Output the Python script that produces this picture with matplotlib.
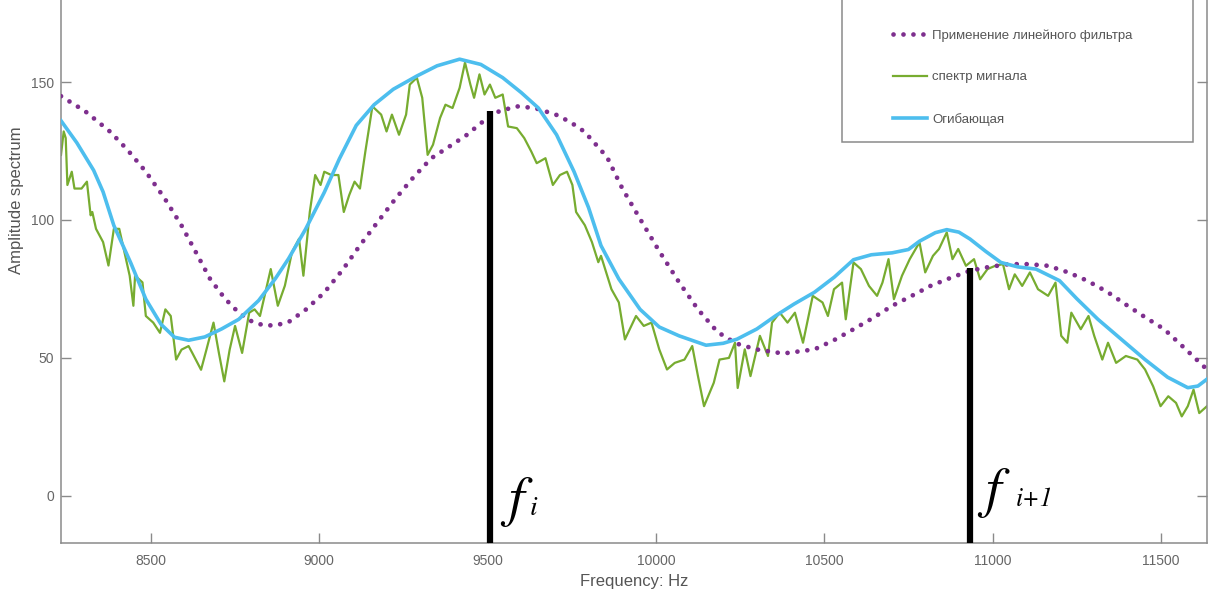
import matplotlib.pyplot as plt
from matplotlib.patches import Rectangle

plt.rcParams["font.family"] = ["Liberation Sans", "DejaVu Sans"]

# spectrum of the signal
freq_signal = [8233, 8241, 8247, 8252, 8265, 8273, 8294, 8310, 8321, 8326, 8337, 8358, 8374, 8390,
               8406, 8417, 8437, 8448, 8453, 8475, 8485, 8507, 8527, 8543, 8559, 8575, 8591, 8612,
               8623, 8649, 8665, 8686, 8702, 8718, 8734, 8750, 8771, 8792, 8808, 8824, 8840, 8856,
               8877, 8898, 8919, 8940, 8953, 8972, 8988, 9004, 9015, 9036, 9057, 9073, 9089, 9105,
               9121, 9137, 9158, 9184, 9200, 9216, 9237, 9258, 9269, 9290, 9306, 9322, 9338, 9359,
               9375, 9396, 9417, 9433, 9449, 9460, 9476, 9491, 9507, 9523, 9545, 9561, 9587, 9609,
               9630, 9646, 9672, 9694, 9715, 9736, 9752, 9763, 9789, 9810, 9829, 9837, 9868, 9890,
               9908, 9941, 9964, 9987, 10010, 10033, 10056, 10085, 10108, 10125, 10143, 10172,
               10189, 10217, 10235, 10243, 10264, 10281, 10309, 10333, 10345, 10368, 10391, 10413,
               10437, 10466, 10495, 10511, 10529, 10553, 10564, 10587, 10609, 10633, 10657, 10673,
               10691, 10707, 10731, 10754, 10783, 10800, 10823, 10841, 10864, 10881, 10898, 10921,
               10945, 10963, 10985, 11008, 11031, 11049, 11066, 11088, 11111, 11135, 11165, 11187,
               11204, 11222, 11234, 11262, 11285, 11302, 11326, 11343, 11367, 11396, 11430, 11453,
               11477, 11499, 11522, 11545, 11562, 11580, 11597, 11614, 11637]
amp_signal = [123.6, 132.1, 129.7, 112.7, 117.5, 111.4, 111.4, 113.9, 101.7, 102.9, 96.8, 92.0, 83.5,
              96.8, 96.8, 90.8, 79.8, 68.9, 79.8, 77.4, 65.2, 62.8, 59.1, 67.6, 65.2, 49.4, 53.0,
              54.3, 51.8, 45.7, 53.0, 62.8, 51.8, 41.5, 53.0, 61.6, 51.8, 66.4, 67.6, 65.2, 73.7,
              82.2, 68.9, 76.2, 88.3, 93.2, 79.8, 102.9, 116.3, 112.7, 117.5, 116.3, 116.3, 102.9,
              109.0, 113.9, 111.4, 124.8, 141.2, 138.2, 132.1, 138.2, 130.9, 138.2, 149.1, 151.6,
              144.3, 123.6, 127.3, 137.0, 141.8, 140.6, 147.9, 157.1, 149.1, 144.3, 152.8, 145.5,
              149.1, 144.3, 145.5, 133.9, 133.3, 129.7, 124.8, 120.6, 122.4, 112.7, 116.3, 117.5,
              112.7, 102.9, 98.1, 92.0, 84.7, 87.0, 74.9, 70.1, 56.7, 65.2, 61.6, 62.8, 53.1, 45.8,
              48.2, 49.4, 54.3, 43.4, 32.5, 41.0, 49.4, 50.0, 55.5, 39.1, 53.1, 43.4, 58.0, 50.7,
              62.8, 66.4, 62.8, 66.4, 55.5, 72.5, 70.1, 65.2, 74.9, 77.3, 64.0, 84.6, 82.2, 76.1,
              72.5, 77.3, 85.8, 71.3, 79.8, 85.8, 91.9, 81.0, 87.0, 89.5, 95.5, 85.8, 89.5, 83.4,
              85.8, 78.5, 82.2, 83.4, 84.0, 74.9, 80.3, 76.1, 81.0, 74.9, 72.5, 77.3, 58.0, 55.5,
              66.4, 60.4, 65.2, 58.0, 49.4, 55.5, 48.2, 50.7, 49.4, 45.8, 39.7, 32.5, 36.1, 33.7,
              28.8, 32.5, 38.5, 30.0, 32.5]

# envelope
freq_env = [8233, 8280, 8330, 8358, 8390, 8440, 8485, 8530, 8570, 8612, 8660, 8710, 8761, 8820,
            8870, 8909, 8960, 9015, 9060, 9110, 9163, 9220, 9290, 9350, 9417, 9480, 9545, 9600,
            9651, 9705, 9757, 9800, 9837, 9890, 9953, 10010, 10069, 10149, 10200, 10241, 10300,
            10356, 10410, 10471, 10530, 10587, 10640, 10702, 10750, 10783, 10830, 10864, 10900,
            10933, 10980, 11025, 11075, 11129, 11199, 11250, 11313, 11380, 11452, 11520, 11580,
            11610, 11637]
amp_env = [136.0, 128.0, 118.0, 110.2, 98.0, 84.5, 71.3, 62.2, 57.5, 56.4, 57.6, 60.5, 64.0, 70.8,
           78.8, 86.0, 96.8, 110.0, 122.2, 134.3, 141.8, 147.4, 152.2, 155.9, 158.3, 156.4, 151.6,
           146.2, 140.6, 130.9, 117.5, 104.5, 90.7, 78.6, 67.6, 61.2, 58.0, 54.6, 55.3, 56.8, 60.5,
           65.3, 69.5, 73.8, 79.3, 85.6, 87.4, 88.1, 89.3, 92.3, 95.4, 96.5, 95.6, 93.1, 88.6,
           84.6, 83.0, 82.2, 78.0, 71.5, 64.0, 57.0, 49.5, 43.0, 39.2, 39.8, 42.3]

# linear filter output
freq_filt = [8233, 8305, 8379, 8430, 8485, 8540, 8591, 8635, 8676, 8720, 8761, 8800, 8835, 8870,
             8909, 8960, 9015, 9070, 9121, 9175, 9227, 9280, 9333, 9386, 9439, 9481, 9534, 9587,
             9640, 9703, 9746, 9788, 9855, 9900, 9953, 10010, 10069, 10125, 10183, 10237, 10298,
             10378, 10471, 10530, 10587, 10645, 10702, 10760, 10817, 10875, 10933, 10990, 11049,
             11107, 11165, 11225, 11281, 11340, 11394, 11450, 11510, 11575, 11637]
amp_filt = [144.9, 139.4, 132.0, 125.5, 117.5, 108.0, 98.0, 88.0, 78.6, 71.5, 66.4, 63.2, 61.8, 61.8,
            63.0, 67.5, 73.7, 82.0, 90.8, 99.5, 107.8, 115.5, 122.4, 126.6, 130.9, 135.2, 139.4,
            141.2, 140.6, 138.2, 135.5, 132.0, 122.8, 111.5, 100.4, 88.7, 77.4, 67.6, 59.4, 55.3,
            53.1, 51.6, 53.1, 56.5, 60.4, 64.5, 68.9, 72.5, 76.2, 79.0, 81.6, 83.0, 84.0, 84.0,
            83.4, 81.0, 78.0, 74.0, 69.5, 65.0, 60.4, 53.0, 45.8]

# marked frequencies f_i, f_i+1 and the heights of their bars
marker_freq = [9508, 10933]
marker_top = [139.5, 82.5]
marker_sub = ["i", "i+1"]

legend_labels = ["Применение линейного фильтра", "спектр мигнала", "Огибающая"]

fig = plt.figure(figsize=(12.11, 5.94), dpi=100)
# axes top runs past the figure edge (picture is cropped at the top)
ax = fig.add_axes([61 / 1211, 51 / 594, 1146 / 1211, 686 / 594])

gray = "#8a8a8a"
l_filt, = ax.plot(freq_filt, amp_filt, color="#7E2F8E", linewidth=3.4,
                  linestyle=(0, (0.01, 2.1)), dash_capstyle="round", zorder=3)
l_sig, = ax.plot(freq_signal, amp_signal, color="#77AC30", linewidth=1.6, zorder=2)
l_env, = ax.plot(freq_env, amp_env, color="#4DBEEE", linewidth=2.6, zorder=4)

ylo = -17.1
ax.vlines(marker_freq, ylo, marker_top, color="black", linewidth=4.5, zorder=5)

# label offsets (points) relative to each bar's foot at y=0
f_dx = [13, 11]
sub_dx = [28.5, 33]
base_dy = [-13.7, -7.5]
sub_size = [20, 18.5]
for xf, sub, fdx, sdx, bdy, ssz in zip(marker_freq, marker_sub, f_dx, sub_dx, base_dy, sub_size):
    ax.annotate("f", xy=(xf, 0), xytext=(fdx, bdy), textcoords="offset points",
                fontfamily="STIXGeneral", fontstyle="italic", fontsize=40,
                ha="left", va="baseline", color="black")
    ax.annotate(sub, xy=(xf, 0), xytext=(sdx, bdy), textcoords="offset points",
                fontfamily="STIXGeneral", fontstyle="italic", fontsize=ssz,
                ha="left", va="baseline", color="black")

ax.set_xlim(8233, 11637)
ax.set_ylim(ylo, 231.6)
ax.set_xticks([8500, 9000, 9500, 10000, 10500, 11000, 11500])
ax.set_yticks([0, 50, 100, 150])
ax.tick_params(direction="in", length=7, width=1, color=gray, labelcolor="#666666",
               labelsize=10, top=True, right=True)
ax.tick_params(axis="x", pad=8)
ax.tick_params(axis="y", pad=5)
for s in ax.spines.values():
    s.set_color(gray)
    s.set_linewidth(1.1)

ax.set_xlabel("Frequency: Hz", fontsize=12, color="#555555", labelpad=4)
ax.set_ylabel("Amplitude spectrum", fontsize=12, color="#555555", labelpad=5)

# legend box (its top lies outside the cropped picture)
fig.patches.append(Rectangle((842 / 1211, 1 - 142 / 594), 351 / 1211, 0.3,
                             transform=fig.transFigure, facecolor="white",
                             edgecolor=gray, linewidth=1.1, zorder=1))
leg = fig.legend([l_filt, l_sig, l_env], legend_labels, loc="upper left",
                 bbox_to_anchor=(893 / 1211, 1 - 29 / 594), frameon=False,
                 fontsize=9.5, labelcolor="#555555", handlelength=2.55,
                 handletextpad=0.4, labelspacing=2.25, borderpad=0, borderaxespad=0)

fig.savefig("out.png", dpi=100)
